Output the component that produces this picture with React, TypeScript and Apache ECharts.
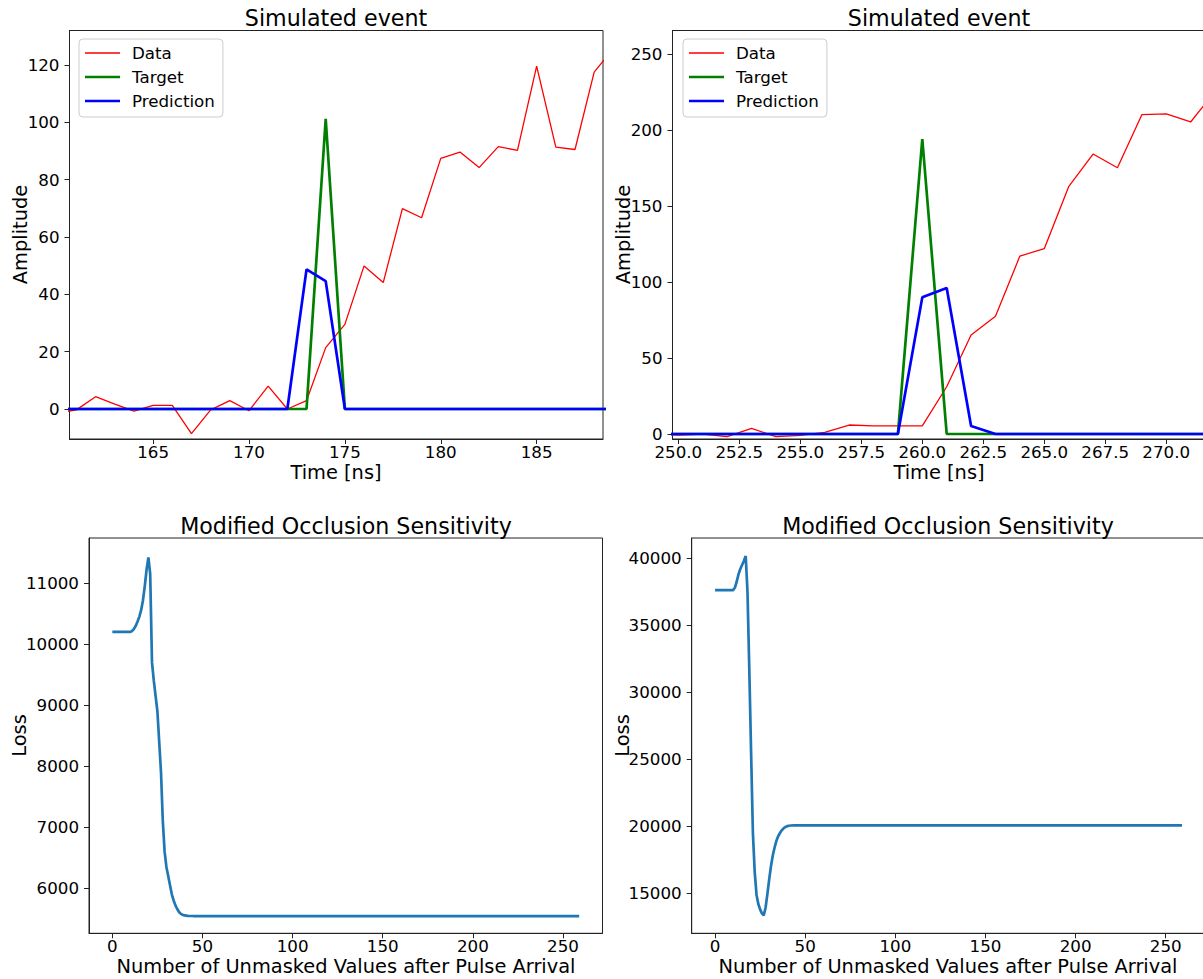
import React, { useEffect, useRef } from "react";
import * as echarts from "echarts";

// Simulated event 1 (times in ns)
const eventATime = [160, 161, 162, 163, 164, 165, 166, 167, 168, 169, 170, 171, 172, 173, 174, 175, 176, 177, 178, 179, 180, 181, 182, 183, 184, 185, 186, 187, 188, 189];
const eventAData = [-1.4, -0.3, 4.3, 1.7, -0.7, 1.3, 1.3, -8.6, -0.3, 2.9, -0.6, 8.0, 0.0, 2.9, 21.4, 29.5, 49.9, 44.1, 69.9, 66.7, 87.4, 89.6, 84.2, 91.5, 90.2, 119.6, 91.3, 90.5, 117.5, 125.7];
const eventATarget = [0, 0, 0, 0, 0, 0, 0, 0, 0, 0, 0, 0, 0, 0, 101.2, 0, 0, 0, 0, 0, 0, 0, 0, 0, 0, 0, 0, 0, 0, 0];
const eventAPrediction = [0, 0, 0, 0, 0, 0, 0, 0, 0, 0, 0, 0, 0, 48.7, 44.6, 0, 0, 0, 0, 0, 0, 0, 0, 0, 0, 0, 0, 0, 0, 0];

// Simulated event 2 (times in ns)
const eventBTime = [249, 250, 251, 252, 253, 254, 255, 256, 257, 258, 259, 260, 261, 262, 263, 264, 265, 266, 267, 268, 269, 270, 271, 272];
const eventBData = [-0.5, -0.7, 0.0, -1.8, 3.7, -1.8, -0.9, 1.1, 5.9, 5.3, 5.3, 5.3, 31.1, 65.1, 77.4, 117.1, 121.9, 162.7, 184.2, 175.2, 210.1, 210.7, 205.3, 225.3];
const eventBTarget = [0, 0, 0, 0, 0, 0, 0, 0, 0, 0, 0, 194.1, 0, 0, 0, 0, 0, 0, 0, 0, 0, 0, 0, 0];
const eventBPrediction = [0, 0, 0, 0, 0, 0, 0, 0, 0, 0, 0, 89.9, 96.1, 5.3, 0, 0, 0, 0, 0, 0, 0, 0, 0, 0];

// Occlusion sensitivity, event 1
const occAUnmasked = [0, 10, 11, 12, 13, 14, 15, 16, 17, 18, 19, 20, 21, 22, 23, 24, 25, 26, 27, 28, 29, 30, 31, 32, 33, 34, 35, 36, 37, 38, 39, 40, 42, 45, 259];
const occALoss = [10200, 10200, 10215, 10250, 10300, 10370, 10450, 10560, 10720, 10950, 11220, 11420, 11150, 9700, 9400, 9150, 8900, 8400, 7900, 7100, 6600, 6350, 6200, 6050, 5900, 5800, 5720, 5660, 5610, 5580, 5565, 5555, 5548, 5545, 5545];

// Occlusion sensitivity, event 2
const occBUnmasked = [0, 10, 11, 12, 13, 14, 15, 16, 17, 18, 19, 20, 21, 22, 23, 24, 25, 26, 27, 28, 29, 30, 31, 32, 33, 34, 35, 36, 37, 38, 39, 40, 41, 42, 44, 259];
const occBLoss = [37630, 37630, 37800, 38250, 38800, 39200, 39500, 39800, 40170, 37500, 31700, 25500, 19500, 16600, 14900, 14200, 13800, 13500, 13350, 13900, 14900, 16000, 17000, 17800, 18400, 18900, 19250, 19500, 19700, 19850, 19950, 20010, 20040, 20060, 20070, 20070];

// Tick labels
const eventATimeTicks = [165, 170, 175, 180, 185];
const eventAAmpTicks = [0, 20, 40, 60, 80, 100, 120];
const eventBTimeTicks = [250, 252.5, 255, 257.5, 260, 262.5, 265, 267.5, 270];
const eventBAmpTicks = [0, 50, 100, 150, 200, 250];
const unmaskedTicks = [0, 50, 100, 150, 200, 250];
const occALossTicks = [6000, 7000, 8000, 9000, 10000, 11000];
const occBLossTicks = [15000, 20000, 25000, 30000, 35000, 40000];

const seriesNames = ["Data", "Target", "Prediction"];
const seriesColors = ["#ff0000", "#008000", "#0000ff"];
const seriesWidths = [1.3, 2.7, 2.7];

const FONT = "'DejaVu Sans', 'Liberation Sans', sans-serif";
const TICK_SIZE = 16.7;
const LABEL_SIZE = 19.4;
const TITLE_SIZE = 22.2;
const SPINE = "#222222";

const zip = (xs: number[], ys: number[]) => xs.map((x, i) => [x, ys[i]]);

// Legend handle: a horizontal bar of the given thickness centred in a 35x14 box.
// The two zero-area strokes at the corners pin the bounding box so the bar keeps its thickness.
function handlePath(thickness: number) {
  const a = 7 - thickness / 2;
  const b = 7 + thickness / 2;
  return `path://M0,0L0.01,0M35,14L34.99,14M0,${a}L35,${a}L35,${b}L0,${b}Z`;
}

function valueAxis(
  gridIndex: number,
  min: number,
  max: number,
  ticks: number[],
  margin: number,
  fmt?: (v: number) => string
) {
  return {
    type: "value",
    gridIndex,
    min,
    max,
    scale: true,
    splitLine: { show: false },
    axisLine: { show: true, onZero: false, lineStyle: { color: SPINE, width: 1 } },
    axisTick: { show: true, inside: false, length: 5, customValues: ticks, lineStyle: { color: SPINE, width: 1 } },
    axisLabel: {
      show: true,
      margin,
      customValues: ticks,
      color: "#000",
      fontFamily: FONT,
      fontSize: TICK_SIZE,
      lineHeight: 16,
      formatter: fmt ? (v: number) => fmt(v) : (v: number) => String(v),
      showMinLabel: true,
      showMaxLabel: true,
      hideOverlap: false,
    },
  };
}

function text(x: number, y: number, s: string, size: number, rotate = false) {
  return {
    type: "text",
    x,
    y,
    rotation: rotate ? Math.PI / 2 : 0,
    style: {
      text: s,
      fill: "#000",
      font: `${size}px ${FONT}`,
      lineHeight: size,
      textAlign: "center",
      textVerticalAlign: "middle",
    },
  };
}

function legend(left: number) {
  return {
    left,
    top: 39,
    orient: "vertical",
    data: seriesNames.map((name, i) => ({
      name,
      icon: handlePath(seriesWidths[i]),
      itemStyle: { color: seriesColors[i], borderWidth: 0 },
    })),
    itemWidth: 35,
    itemHeight: 14,
    itemGap: 6,
    padding: [5, 8, 7, 6],
    borderColor: "#cccccc",
    borderWidth: 1,
    borderRadius: 4,
    backgroundColor: "rgba(255,255,255,0.8)",
    selectedMode: false,
    textStyle: { color: "#000", fontFamily: FONT, fontSize: TICK_SIZE, lineHeight: 18, padding: [0, 0, 0, 7] },
  };
}

function eventSeries(idx: number, time: number[], data: number[], target: number[], pred: number[]) {
  return [data, target, pred].map((vals, i) => ({
    name: seriesNames[i],
    type: "line",
    xAxisIndex: idx,
    yAxisIndex: idx,
    data: zip(time, vals),
    symbol: "none",
    lineStyle: { color: seriesColors[i], width: seriesWidths[i] },
    itemStyle: { color: seriesColors[i] },
  }));
}

export default function App() {
  const ref = useRef<HTMLDivElement>(null);

  useEffect(() => {
    if (!ref.current) return;
    const chart = echarts.init(ref.current, undefined, { renderer: "svg" });

    const gridBase = { show: true, borderColor: SPINE, borderWidth: 1, backgroundColor: "#fff", containLabel: false, outerBoundsMode: "none" };

    chart.setOption({
      animation: false,
      backgroundColor: "#ffffff",
      textStyle: { fontFamily: FONT },
      grid: [
        { ...gridBase, left: 69.5, top: 30.5, width: 533.5, height: 408.5 },
        { ...gridBase, left: 672.5, top: 30.5, width: 533.5, height: 408.5 },
        { ...gridBase, left: 89, top: 538, width: 513.5, height: 395.3 },
        { ...gridBase, left: 691.7, top: 538, width: 513.6, height: 395.3 },
      ],
      xAxis: [
        valueAxis(0, 160.64, 188.46, eventATimeTicks, 5),
        valueAxis(1, 249.76, 271.63, eventBTimeTicks, 5, (v) => v.toFixed(1)),
        valueAxis(2, -12.95, 271.95, unmaskedTicks, 5),
        valueAxis(3, -12.95, 271.95, unmaskedTicks, 5),
      ],
      yAxis: [
        valueAxis(0, -10.46, 132.0, eventAAmpTicks, 10),
        valueAxis(1, -3.3, 265.5, eventBAmpTicks, 10),
        valueAxis(2, 5262, 11738, occALossTicks, 10),
        valueAxis(3, 12015, 41515, occBLossTicks, 10),
      ],
      legend: [legend(79), legend(683)],
      series: [
        ...eventSeries(0, eventATime, eventAData, eventATarget, eventAPrediction),
        ...eventSeries(1, eventBTime, eventBData, eventBTarget, eventBPrediction),
        { name: "Loss A", type: "line", xAxisIndex: 2, yAxisIndex: 2, data: zip(occAUnmasked, occALoss), symbol: "none", lineStyle: { color: "#1f77b4", width: 2.7 } },
        { name: "Loss B", type: "line", xAxisIndex: 3, yAxisIndex: 3, data: zip(occBUnmasked, occBLoss), symbol: "none", lineStyle: { color: "#1f77b4", width: 2.7 } },
      ],
      graphic: [
        text(336, 18, "Simulated event", TITLE_SIZE),
        text(939, 18, "Simulated event", TITLE_SIZE),
        text(346, 526, "Modified Occlusion Sensitivity", TITLE_SIZE),
        text(948, 526, "Modified Occlusion Sensitivity", TITLE_SIZE),
        text(336, 472, "Time [ns]", LABEL_SIZE),
        text(939, 472, "Time [ns]", LABEL_SIZE),
        text(346, 966, "Number of Unmasked Values after Pulse Arrival", LABEL_SIZE),
        text(948, 966, "Number of Unmasked Values after Pulse Arrival", LABEL_SIZE),
        text(20, 234.5, "Amplitude", LABEL_SIZE, true),
        text(623, 234.5, "Amplitude", LABEL_SIZE, true),
        text(19, 735.5, "Loss", LABEL_SIZE, true),
        text(622, 735.5, "Loss", LABEL_SIZE, true),
      ],
    });

    return () => chart.dispose();
  }, []);

  return (
    <div style={{ position: "fixed", left: 0, top: 0, width: 1203, height: 979, overflow: "hidden", background: "#fff" }}>
      <div ref={ref} style={{ position: "absolute", left: 0, top: 0, width: 1212, height: 979 }} />
    </div>
  );
}
